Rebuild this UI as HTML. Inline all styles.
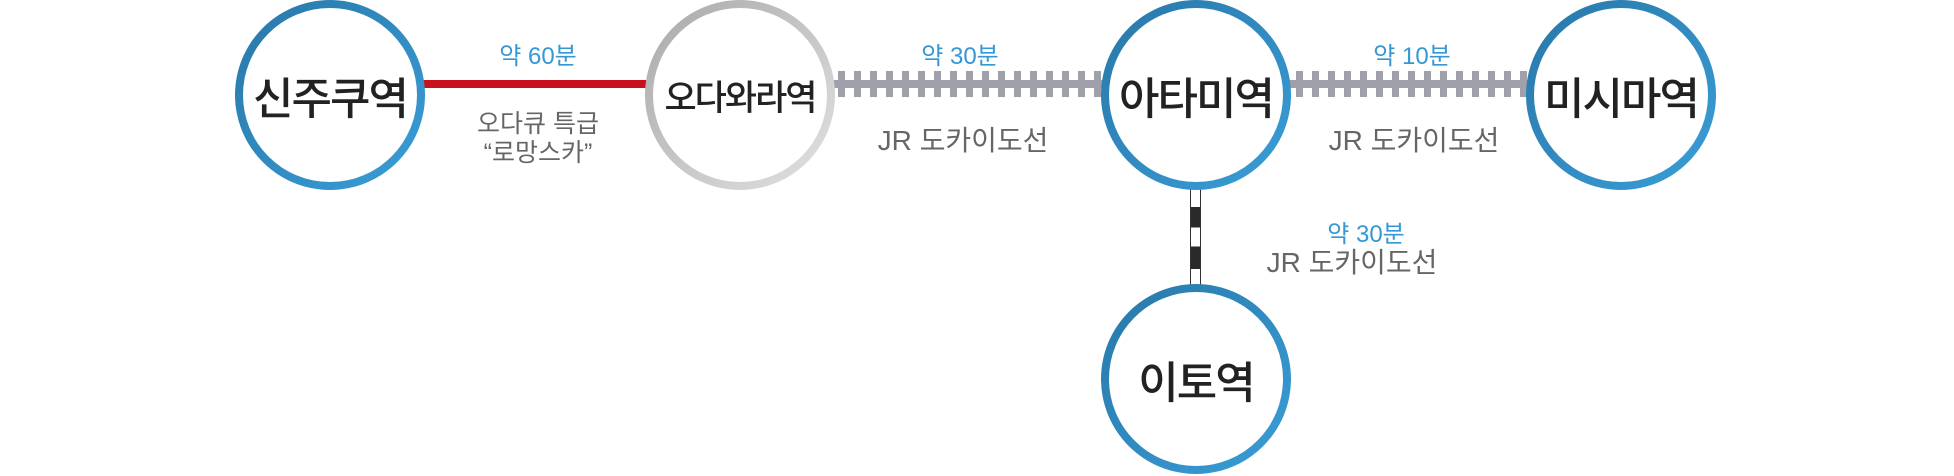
<!DOCTYPE html>
<html><head><meta charset="utf-8"><style>
body{margin:0;width:1954px;height:476px;background:#fff;position:relative;overflow:hidden;font-family:"Liberation Sans","Noto Sans CJK KR",sans-serif}
.c{position:absolute;width:190px;height:190px;border-radius:50%;box-sizing:border-box;padding:8px;background:linear-gradient(135deg,#2877a8,#3a9ed8);}
.c.g{background:linear-gradient(135deg,#a9a9a9,#e2e2e2);}
.c div{width:100%;height:100%;border-radius:50%;background:radial-gradient(circle at 50% 50%,#fff 70%,#eee 100%);display:flex;align-items:center;justify-content:center;font-size:44px;font-weight:500;color:#222;letter-spacing:-2px}
.t{position:absolute;transform:translateX(-50%);white-space:nowrap;text-align:center}
.b{color:#3597d3;font-size:24px}
.gr{color:#666;font-size:28px;line-height:32px}
.rail{position:absolute;height:8px;background:#a0a0aa}
.ties{position:absolute;height:26px;background:repeating-linear-gradient(90deg,#a0a0aa 0 7px,transparent 7px 16px)}
</style></head><body>
<div style="position:absolute;left:420px;top:80px;width:232px;height:8px;background:#c8101f"></div>
<div class="rail" style="left:830px;top:80px;width:276px"></div>
<div class="ties" style="left:838px;top:71px;width:266px"></div>
<div class="rail" style="left:1286px;top:80px;width:248px"></div>
<div class="ties" style="left:1296px;top:71px;width:234px"></div>
<div style="position:absolute;left:1190px;top:185px;width:9px;height:104px;border:1.5px solid #333;background:linear-gradient(#fff 0 20%,#2a2a2a 20% 40%,#fff 40% 58%,#2a2a2a 58% 80%,#fff 80%)"></div>
<div class="c" style="left:235px;top:0px"><div style="font-size:44px">신주쿠역</div></div>
<div class="c g" style="left:645px;top:0px"><div style="font-size:35px">오다와라역</div></div>
<div class="c" style="left:1101px;top:0px"><div>아타미역</div></div>
<div class="c" style="left:1526px;top:0px"><div>미시마역</div></div>
<div class="c" style="left:1101px;top:284px"><div>이토역</div></div>
<div class="t b" style="left:538px;top:36px">약 60분</div>
<div class="t gr" style="left:538px;top:110px;font-size:25px;line-height:29px">오다큐 특급<br>“로망스카”</div>
<div class="t b" style="left:960px;top:36px">약 30분</div>
<div class="t gr" style="left:963px;top:125px">JR 도카이도선</div>
<div class="t b" style="left:1412px;top:36px">약 10분</div>
<div class="t gr" style="left:1414px;top:125px">JR 도카이도선</div>
<div class="t b" style="left:1366px;top:214px">약 30분</div>
<div class="t gr" style="left:1352px;top:247px">JR 도카이도선</div>
</body></html>
